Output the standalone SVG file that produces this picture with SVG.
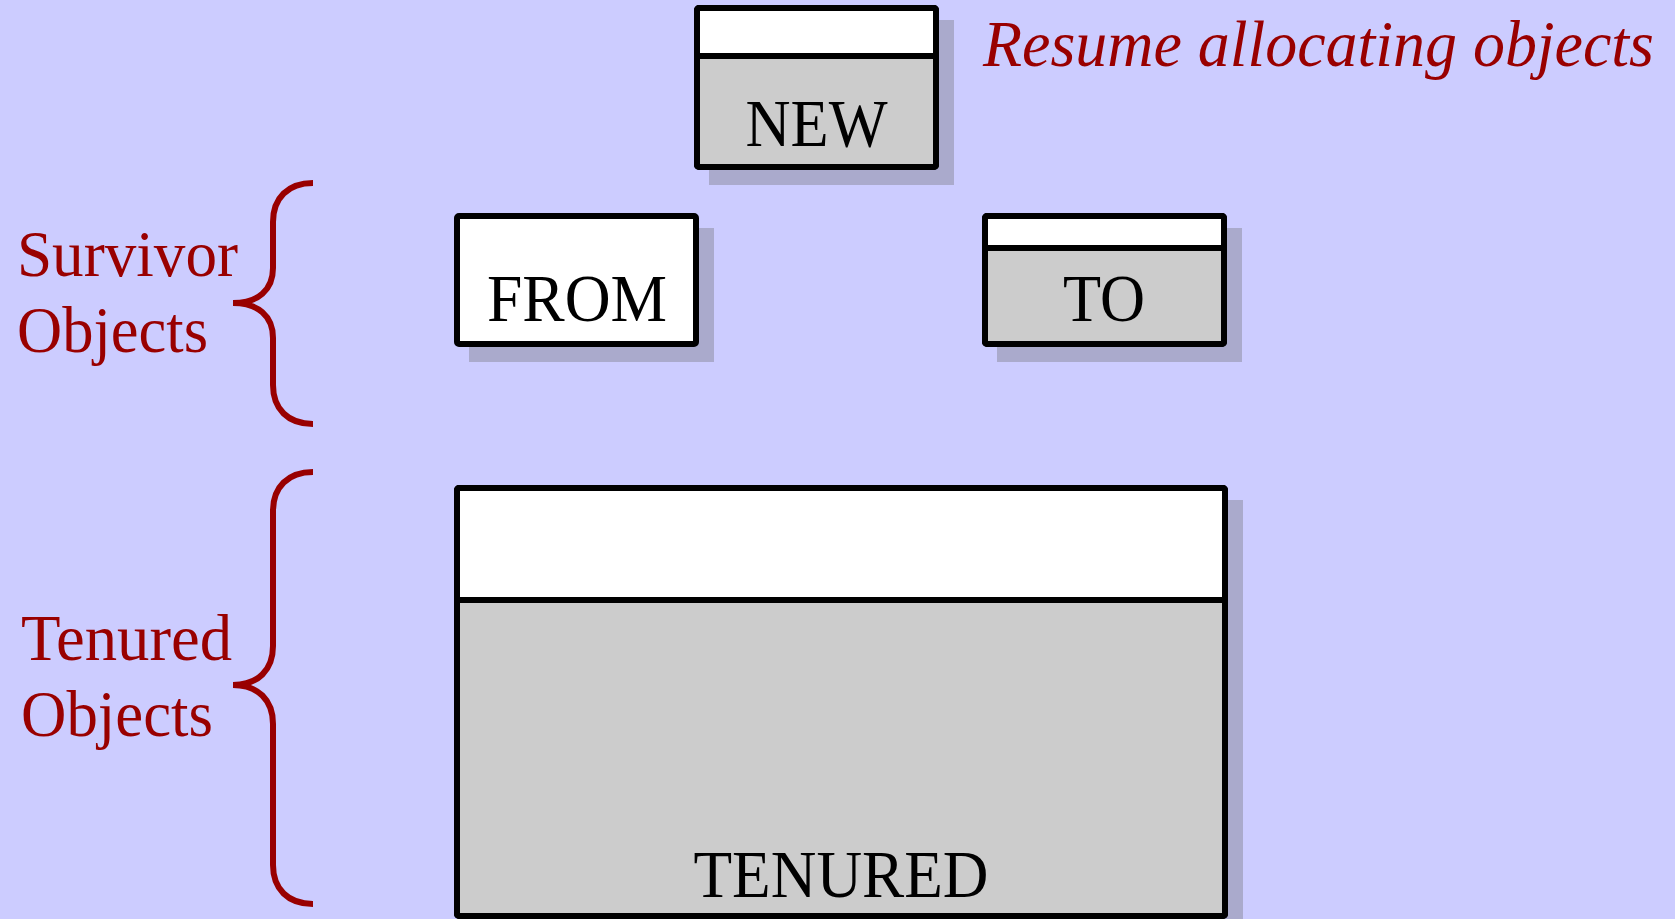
<svg xmlns="http://www.w3.org/2000/svg" width="1675" height="919" viewBox="0 0 1675 919">
<style>
.shadow{fill:#aaaacc;}
.box{stroke:#000;stroke-width:6;stroke-linejoin:round;}
.white{fill:#ffffff;}
.gray{fill:#cccccc;}
.div{stroke:#000;stroke-width:6;fill:none;}
.boxlabel{font-family:"Liberation Serif","Times New Roman",serif;font-size:67px;fill:#000;}
.label{font-family:"Liberation Serif","Times New Roman",serif;font-size:66px;fill:#990000;}
.note{font-family:"Liberation Serif","Times New Roman",serif;font-size:66px;font-style:italic;fill:#990000;}
.brace{fill:none;stroke:#990000;stroke-width:6;stroke-linecap:butt;stroke-linejoin:miter;}
</style>
<rect width="1675" height="919" fill="#ccccff"/>
<g id="new">
<rect class="shadow" x="709" y="20" width="245" height="165"/>
<rect class="box white" x="697" y="8" width="239" height="159" rx="2"/>
<rect class="gray" x="700" y="56" width="233" height="108"/>
<line class="div" x1="697" y1="56" x2="936" y2="56"/>
<rect class="box" fill="none" x="697" y="8" width="239" height="159" rx="2"/>
<text class="boxlabel" x="816.5" y="146" text-anchor="middle" textLength="142" lengthAdjust="spacingAndGlyphs">NEW</text>
</g>
<g id="resume">
<text class="note" x="983" y="66" textLength="671" lengthAdjust="spacingAndGlyphs">Resume allocating objects</text>
</g>
<g id="from">
<rect class="shadow" x="469" y="228" width="245" height="134"/>
<rect class="box white" x="457" y="216" width="239" height="128" rx="2"/>
<text class="boxlabel" x="577" y="321" text-anchor="middle" textLength="180" lengthAdjust="spacingAndGlyphs">FROM</text>
</g>
<g id="to">
<rect class="shadow" x="997" y="228" width="245" height="134"/>
<rect class="box white" x="985" y="216" width="239" height="128" rx="2"/>
<rect class="gray" x="988" y="248" width="233" height="93"/>
<line class="div" x1="985" y1="248" x2="1224" y2="248"/>
<rect class="box" fill="none" x="985" y="216" width="239" height="128" rx="2"/>
<text class="boxlabel" x="1104" y="321" text-anchor="middle" textLength="82" lengthAdjust="spacingAndGlyphs">TO</text>
</g>
<g id="tenured">
<rect class="shadow" x="469" y="500" width="774" height="430"/>
<rect class="box white" x="457" y="488" width="768" height="428" rx="2"/>
<rect class="gray" x="460" y="600" width="762" height="313"/>
<line class="div" x1="457" y1="600" x2="1225" y2="600"/>
<rect class="box" fill="none" x="457" y="488" width="768" height="428" rx="2"/>
<text class="boxlabel" x="841" y="897" text-anchor="middle" textLength="295" lengthAdjust="spacingAndGlyphs">TENURED</text>
</g>
<g id="survivor-label">
<path class="brace" d="M313,183 C288,183 273,198 273,222 L273,268 C273,290 258,303 233,303 C258,303 273,316 273,338 L273,385 C273,409 288,424 313,424"/>
<text class="label" x="17" y="276" textLength="221" lengthAdjust="spacingAndGlyphs">Survivor</text>
<text class="label" x="17" y="352" textLength="191" lengthAdjust="spacingAndGlyphs">Objects</text>
</g>
<g id="tenured-label">
<path class="brace" d="M313,472 C288,472 273,487 273,511 L273,646 C273,670 258,685 233,685 C258,685 273,700 273,724 L273,865 C273,889 288,904 313,904"/>
<text class="label" x="21" y="660" textLength="211" lengthAdjust="spacingAndGlyphs">Tenured</text>
<text class="label" x="21" y="736" textLength="192" lengthAdjust="spacingAndGlyphs">Objects</text>
</g>
<g id="connectors"></g>
</svg>
